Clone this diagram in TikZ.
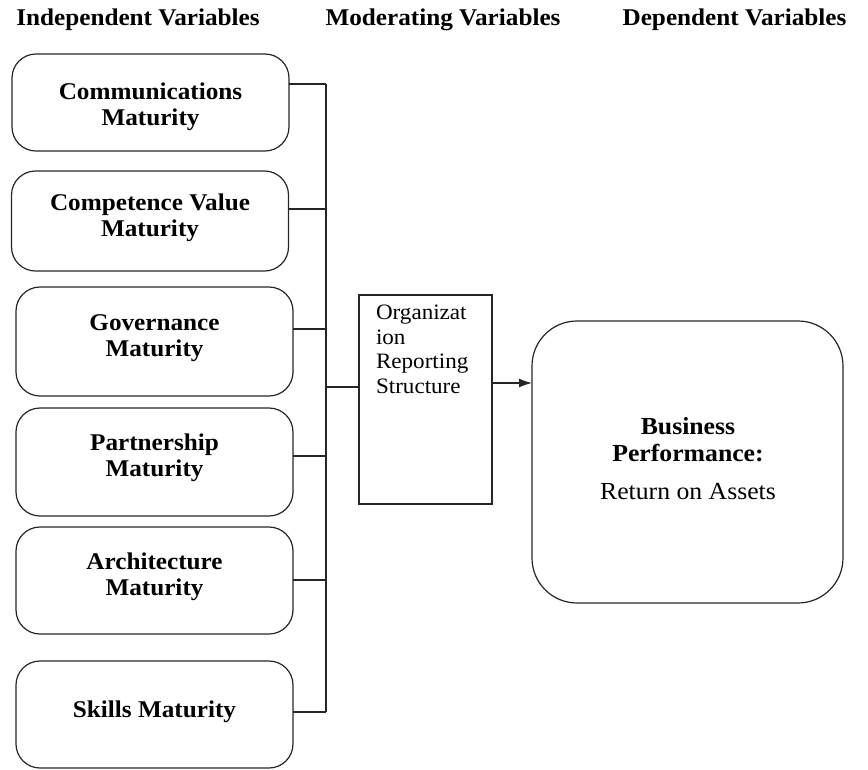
\documentclass[tikz,border=0pt]{standalone}
\usepackage{fontspec}
\setmainfont{Liberation Serif}[FakeStretch=1.05]
\usetikzlibrary{arrows.meta}
\begin{document}
\begin{tikzpicture}[x=1pt,y=-1pt,
  line width=1.2pt,
  every node/.style={inner sep=0pt, outer sep=0pt},
  varbox/.style={draw=black!85, rounded corners=24pt, minimum width=277pt, minimum height=#1},
  varlabel/.style={font=\fontsize{24}{26.5}\selectfont\bfseries, align=center},
  header/.style={font=\fontsize{24}{26}\selectfont\bfseries},
  link/.style={draw=black!85}]
\useasboundingbox (0,0) rectangle (868,769);

% column headings
\node[header] (hind) at (138,20) {Independent Variables};
\node[header] (hmod) at (443,20) {Moderating Variables};
\node[header] (hdep) at (734.5,20) {Dependent Variables};

% independent variables
\node[varbox=97pt] (b1) at (150.5,102.5) {};
\node[varbox=100pt] (b2) at (150,221) {};
\node[varbox=109pt] (b3) at (154.5,341.5) {};
\node[varbox=108pt] (b4) at (154.5,462) {};
\node[varbox=107pt] (b5) at (154.5,580.5) {};
\node[varbox=107pt] (b6) at (154.5,714.5) {};

\node[varlabel] (t1) at (150.5,107) {Communications\\Maturity};
\node[varlabel] (t2) at (150,218) {Competence Value\\Maturity};
\node[varlabel] (t3) at (154.5,338) {Governance\\Maturity};
\node[varlabel] (t4) at (154.5,458) {Partnership\\Maturity};
\node[varlabel] (t5) at (154.5,577) {Architecture\\Maturity};
\node[varlabel] (t6) at (154.5,712) {Skills Maturity};

% collecting bus
\coordinate (bustop) at (326,84);
\coordinate (busbot) at (326,712);
\draw[link] (bustop) -- (busbot);
\draw[link] (b1.east |- bustop) -- (bustop);
\draw[link] (b2.east |- 0,209) -- (326,209);
\draw[link] (b3.east |- 0,329) -- (326,329);
\draw[link] (b4.east |- 0,456) -- (326,456);
\draw[link] (b5.east |- 0,580) -- (326,580);
\draw[link] (b6.east |- busbot) -- (busbot);

% moderating variable
\node[draw=black!85, minimum width=133pt, minimum height=209pt] (org) at (425.5,399.5) {};
\node[font=\fontsize{22}{24.5}\selectfont, align=left, anchor=north west] (orgt) at (376,305)
  {Organizat\\ion\\Reporting\\Structure};
\coordinate (busmid) at (326,387);
\draw[link] (busmid) -- (org.west |- busmid);

% dependent variable
\node[draw=black!85, rounded corners=45pt, minimum width=311pt, minimum height=282pt] (perf) at (687.5,462) {};
\node[align=center, font=\fontsize{24.5}{27}\selectfont] (perft) at (688,459)
  {\textbf{Business}\\\textbf{Performance:}\\[11pt]Return on Assets};

\draw[link, -{Latex[length=13pt,width=9pt]}] (org.east |- 0,383) -- (perf.west |- 0,383);
\end{tikzpicture}
\end{document}
